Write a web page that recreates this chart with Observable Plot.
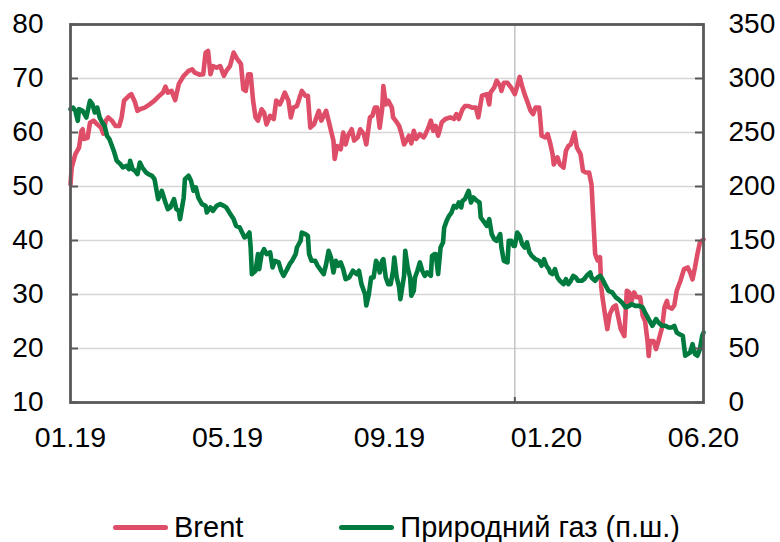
<!DOCTYPE html>
<html>
<head>
<meta charset="utf-8">
<script src="https://cdn.jsdelivr.net/npm/d3@7"></script>
<script src="https://cdn.jsdelivr.net/npm/@observablehq/plot@0.6"></script>
<style>
  html, body { margin: 0; padding: 0; background: #fff; }
  body { width: 780px; height: 542px; overflow: hidden; font-family: "Liberation Sans", Arial, sans-serif; }
  #chart svg { display: block; }
  #legend { position: relative; height: 34px; margin-top: 30px; display: flex; align-items: center; padding-left: 113px; font-size: 29px; color: #000; }
  .item { display: flex; align-items: center; }
  .swatch { display: inline-block; width: 55px; height: 5px; border-radius: 3px; margin-right: 6px; }
</style>
</head>
<body>
<div id="chart"></div>
<div id="legend"></div>
<script>
const seriesNames = ["Brent", "Природний газ (п.ш.)"];
const seriesColors = ["#DF4E68", "#007B3F"];

const leftTicks = [10, 20, 30, 40, 50, 60, 70, 80];
const rightTickLabels = ["0", "50", "100", "150", "200", "250", "300", "350"];
const xTickDates = ["2019-01-01", "2019-05-10", "2019-09-20", "2020-01-27", "2020-06-04"];
const xTickLabels = ["01.19", "05.19", "09.19", "01.20", "06.20"];
const xDomain = ["2019-01-01", "2020-06-04"];
const markerDate = "2020-01-01";

const brentDates = ["2019-01-01","2019-01-02","2019-01-05","2019-01-08","2019-01-10","2019-01-11","2019-01-12","2019-01-15","2019-01-17","2019-01-20","2019-01-23","2019-01-26","2019-01-28","2019-01-30","2019-02-01","2019-02-04","2019-02-07","2019-02-10","2019-02-12","2019-02-14","2019-02-18","2019-02-20","2019-02-23","2019-02-25","2019-02-27","2019-03-03","2019-03-07","2019-03-11","2019-03-14","2019-03-18","2019-03-20","2019-03-22","2019-03-25","2019-03-28","2019-03-31","2019-04-04","2019-04-08","2019-04-11","2019-04-13","2019-04-17","2019-04-20","2019-04-22","2019-04-24","2019-04-26","2019-04-28","2019-05-01","2019-05-04","2019-05-07","2019-05-09","2019-05-12","2019-05-15","2019-05-18","2019-05-21","2019-05-23","2019-05-25","2019-05-27","2019-05-29","2019-05-31","2019-06-02","2019-06-04","2019-06-07","2019-06-09","2019-06-11","2019-06-14","2019-06-17","2019-06-19","2019-06-22","2019-06-24","2019-06-26","2019-06-29","2019-07-01","2019-07-03","2019-07-06","2019-07-10","2019-07-13","2019-07-15","2019-07-17","2019-07-20","2019-07-24","2019-07-26","2019-07-30","2019-08-01","2019-08-04","2019-08-05","2019-08-06","2019-08-08","2019-08-11","2019-08-13","2019-08-15","2019-08-17","2019-08-20","2019-08-22","2019-08-25","2019-08-27","2019-08-30","2019-09-01","2019-09-04","2019-09-06","2019-09-08","2019-09-10","2019-09-12","2019-09-14","2019-09-15","2019-09-17","2019-09-19","2019-09-22","2019-09-23","2019-09-26","2019-09-28","2019-09-30","2019-10-02","2019-10-04","2019-10-06","2019-10-08","2019-10-10","2019-10-12","2019-10-15","2019-10-18","2019-10-19","2019-10-22","2019-10-24","2019-10-26","2019-10-28","2019-10-30","2019-11-02","2019-11-05","2019-11-09","2019-11-12","2019-11-14","2019-11-16","2019-11-19","2019-11-21","2019-11-24","2019-11-27","2019-11-30","2019-12-02","2019-12-05","2019-12-09","2019-12-11","2019-12-12","2019-12-15","2019-12-17","2019-12-20","2019-12-21","2019-12-23","2019-12-26","2019-12-29","2020-01-01","2020-01-03","2020-01-05","2020-01-07","2020-01-09","2020-01-11","2020-01-14","2020-01-16","2020-01-18","2020-01-21","2020-01-22","2020-01-23","2020-01-26","2020-01-28","2020-01-30","2020-02-01","2020-02-02","2020-02-05","2020-02-07","2020-02-10","2020-02-12","2020-02-14","2020-02-16","2020-02-19","2020-02-21","2020-02-24","2020-02-26","2020-02-28","2020-03-02","2020-03-04","2020-03-05","2020-03-07","2020-03-09","2020-03-11","2020-03-12","2020-03-13","2020-03-15","2020-03-17","2020-03-19","2020-03-22","2020-03-24","2020-03-26","2020-03-28","2020-03-31","2020-04-02","2020-04-04","2020-04-05","2020-04-08","2020-04-10","2020-04-13","2020-04-15","2020-04-17","2020-04-19","2020-04-20","2020-04-21","2020-04-24","2020-04-26","2020-04-28","2020-05-01","2020-05-03","2020-05-05","2020-05-06","2020-05-09","2020-05-11","2020-05-13","2020-05-16","2020-05-19","2020-05-22","2020-05-24","2020-05-26","2020-05-28","2020-05-30","2020-06-01","2020-06-04"];
const brentValues = [50.4,53.5,56,57.2,60.3,60.6,58.8,59,61.8,62.2,61.5,60.9,59.8,62.2,62.8,62.2,61.2,61.2,62.8,65.9,66.8,67.1,65.6,64,64.3,64.6,65.2,65.9,66.6,67.4,68.5,67.4,67.7,66,69,70.5,71.4,71.7,71.1,70.7,70.8,74.8,75.1,70.8,72.3,72,72.3,70.5,71.4,72.3,74.8,73.6,72.7,68,67.7,70.8,70.8,65.9,62.8,62.2,64.3,63.7,61.5,63.1,62.5,65.9,65.2,66.2,67.4,65.9,62.8,64.6,64.9,67.7,66.8,66.8,60.9,61.5,64,62.2,64,62.2,59.4,58.5,55.1,57.5,56.9,60,57.8,59.4,60.6,58.5,59.1,60.6,59.7,57.8,62.8,63.1,64.6,64.6,60.9,64.3,68.6,65.2,65.9,64.6,62.8,61.9,61.2,59.7,57.8,58.5,59.4,58,60.3,58.8,59.7,59.1,59.4,60.9,62.2,60.3,61.2,59.4,61.9,62.5,62.8,62.5,63.4,62.5,64.3,64.9,64.9,64.6,64.6,62.8,66.8,67.1,65.2,67.4,68.3,69.6,68.6,67.7,69.2,69.2,68.3,67.1,68.6,70.3,68.6,67.1,65.9,64,63.4,64.6,64.6,62.2,59.4,59.1,59.7,58.1,56,54.1,55.4,54.1,53.5,56.6,57.5,57.8,60,57.2,56,52.9,52.6,52.6,50.4,46.1,37.5,36.3,36.9,31.4,29.5,26.4,23.6,26.4,27.7,28,25.8,23.6,22.3,30.7,30.4,28.2,30.4,29.5,29.5,26.1,25.1,21.4,18.6,21.4,21.4,19.9,21.4,23.9,27.7,28.8,27.7,27.4,28,30.7,32.5,34.7,35,34.1,32.8,35,37.5,39.6,40.2];

const gasDates = ["2019-01-01","2019-01-03","2019-01-05","2019-01-07","2019-01-08","2019-01-11","2019-01-14","2019-01-17","2019-01-19","2019-01-21","2019-01-23","2019-01-25","2019-01-27","2019-01-29","2019-01-31","2019-02-02","2019-02-04","2019-02-06","2019-02-08","2019-02-11","2019-02-13","2019-02-16","2019-02-18","2019-02-19","2019-02-21","2019-02-23","2019-02-25","2019-02-27","2019-03-01","2019-03-04","2019-03-06","2019-03-09","2019-03-11","2019-03-14","2019-03-17","2019-03-20","2019-03-22","2019-03-24","2019-03-27","2019-03-29","2019-03-31","2019-04-01","2019-04-04","2019-04-05","2019-04-08","2019-04-10","2019-04-12","2019-04-14","2019-04-16","2019-04-19","2019-04-22","2019-04-23","2019-04-26","2019-04-28","2019-05-01","2019-05-04","2019-05-07","2019-05-09","2019-05-12","2019-05-15","2019-05-17","2019-05-20","2019-05-22","2019-05-24","2019-05-26","2019-05-28","2019-05-29","2019-05-30","2019-06-02","2019-06-04","2019-06-05","2019-06-07","2019-06-09","2019-06-11","2019-06-14","2019-06-16","2019-06-18","2019-06-21","2019-06-23","2019-06-25","2019-06-28","2019-06-30","2019-07-02","2019-07-05","2019-07-06","2019-07-09","2019-07-10","2019-07-13","2019-07-15","2019-07-16","2019-07-18","2019-07-21","2019-07-23","2019-07-25","2019-07-28","2019-07-30","2019-08-01","2019-08-03","2019-08-05","2019-08-07","2019-08-09","2019-08-11","2019-08-13","2019-08-15","2019-08-18","2019-08-21","2019-08-24","2019-08-26","2019-08-28","2019-08-31","2019-09-01","2019-09-03","2019-09-05","2019-09-07","2019-09-09","2019-09-11","2019-09-12","2019-09-14","2019-09-15","2019-09-17","2019-09-19","2019-09-21","2019-09-23","2019-09-24","2019-09-26","2019-09-28","2019-09-29","2019-10-02","2019-10-03","2019-10-05","2019-10-07","2019-10-08","2019-10-10","2019-10-11","2019-10-13","2019-10-15","2019-10-17","2019-10-19","2019-10-21","2019-10-24","2019-10-25","2019-10-27","2019-10-28","2019-10-30","2019-11-01","2019-11-03","2019-11-04","2019-11-06","2019-11-08","2019-11-10","2019-11-12","2019-11-14","2019-11-16","2019-11-18","2019-11-19","2019-11-21","2019-11-24","2019-11-26","2019-11-28","2019-12-01","2019-12-03","2019-12-04","2019-12-07","2019-12-09","2019-12-11","2019-12-13","2019-12-15","2019-12-17","2019-12-20","2019-12-21","2019-12-23","2019-12-26","2019-12-27","2019-12-29","2019-12-31","2020-01-01","2020-01-03","2020-01-05","2020-01-07","2020-01-09","2020-01-11","2020-01-13","2020-01-15","2020-01-18","2020-01-21","2020-01-23","2020-01-25","2020-01-27","2020-01-29","2020-01-30","2020-02-01","2020-02-03","2020-02-05","2020-02-07","2020-02-10","2020-02-12","2020-02-14","2020-02-16","2020-02-18","2020-02-20","2020-02-22","2020-02-25","2020-02-27","2020-02-29","2020-03-03","2020-03-04","2020-03-07","2020-03-09","2020-03-11","2020-03-13","2020-03-15","2020-03-18","2020-03-21","2020-03-24","2020-03-26","2020-03-29","2020-04-01","2020-04-04","2020-04-06","2020-04-09","2020-04-12","2020-04-15","2020-04-17","2020-04-20","2020-04-23","2020-04-26","2020-04-28","2020-05-01","2020-05-04","2020-05-06","2020-05-09","2020-05-11","2020-05-13","2020-05-15","2020-05-18","2020-05-20","2020-05-22","2020-05-24","2020-05-26","2020-05-28","2020-05-30","2020-06-01","2020-06-03","2020-06-04"];
const gasValues = [271.6,273,270,260.8,271.6,270,263.9,279.3,276.2,268.5,273,263.9,259.3,256.2,246.9,243.8,237.7,231.5,223.8,220.7,217.6,219.1,216.1,223.8,216.1,214.5,211.4,222.2,217.6,213,211.4,209.9,206.8,188.3,196,185.2,179,180.6,188.3,179,177.5,169.8,189.8,206.8,209.9,205.3,196,199.1,189.8,183.7,182.1,175.9,180.6,177.5,182.1,183.7,182.1,180.6,175,169.8,163.6,162.1,157.4,152.8,154.3,157.4,143.5,118.9,122,137.4,123.5,137.4,142,137.4,139,125,131.2,129.7,122,117.3,123.5,128.1,131.2,137.4,143.5,149.7,157.4,155.9,154.3,137.4,131.2,131.2,126.6,123.5,118.9,128.1,140.4,134.3,120.4,131.2,126.6,129.7,123.5,114.2,115.8,122,118.9,122,109.6,100.3,89.8,99.8,115.8,115.8,131.2,126.6,120.4,131.2,132.8,115.8,109.6,109.6,122,134.3,115.8,106.5,95.7,117.3,140.4,125,115.8,98.8,103.4,115.8,122,129.7,122,117.3,120.4,117.3,135.8,137.4,137.4,118.9,143.5,148.2,162.1,168.2,172.9,175.9,182.1,180.6,185.2,180.6,186.7,188.3,196,185.2,189.8,186.7,185.2,171.3,166.7,163.6,169.8,155.9,151.3,149.7,155.9,143.5,131.2,129.7,149.7,149.7,145,145,157.4,154.3,146.6,143.5,148.2,139,135.8,132.7,131.2,126.6,132.7,126.6,123.5,120.4,118.9,123.5,115.8,112.7,109.6,114.2,109.6,112.7,117.3,115.8,112.7,112.7,114.2,117.3,120.4,115.8,112.7,115.8,117.3,114.2,109.6,103.4,101.9,97.2,95.7,92.6,88,89.5,91.1,89.5,89.5,88,83.3,77.2,71,77.2,74.1,71,71,69.5,69.5,71,64.8,63.3,61.8,43.3,44.9,46.3,54,44.9,43.3,49.4,61.8,64.8];

const brent = brentDates.map((d, i) => ({date: new Date(d), value: brentValues[i]}));
const gas = gasDates.map((d, i) => ({date: new Date(d), value: gasValues[i]}));
// right axis 0..350 shares the grid with left axis 10..80
const toLeft = v => v / 5 + 10;

const axisColor = "#595959";
const font = "Liberation Sans, Arial, sans-serif";

const chart = Plot.plot({
  width: 780,
  height: 480,
  marginLeft: 70,
  marginRight: 77,
  marginTop: 24,
  marginBottom: 78,
  style: {fontFamily: font, color: "#000", background: "#fff", overflow: "visible"},
  x: {type: "utc", domain: xDomain.map(d => new Date(d)), label: null},
  y: {domain: [leftTicks[0], leftTicks[leftTicks.length - 1]], label: null},
  marks: [
    Plot.ruleY(leftTicks.slice(1, -1), {stroke: "#d6d6d6", strokeWidth: 1.5}),
    Plot.ruleX([new Date(markerDate)], {stroke: "#c4c4c4", strokeWidth: 1.5}),
    Plot.lineY(brent, {x: "date", y: "value", stroke: seriesColors[0], strokeWidth: 4.6, strokeLinejoin: "round", strokeLinecap: "round"}),
    Plot.lineY(gas, {x: "date", y: d => toLeft(d.value), stroke: seriesColors[1], strokeWidth: 4.6, strokeLinejoin: "round", strokeLinecap: "round"}),
    Plot.frame({stroke: axisColor, strokeWidth: 2.8}),
    // inward tick marks
    Plot.axisY({anchor: "left", ticks: leftTicks, tickSize: 8, dx: 8, tickFormat: () => "", stroke: axisColor, strokeWidth: 2}),
    Plot.axisY({anchor: "right", ticks: leftTicks, tickSize: 9, dx: -9, tickFormat: () => "", stroke: axisColor, strokeWidth: 2}),
    Plot.axisX({ticks: [new Date(markerDate)], tickSize: 5, dy: -5, tickFormat: () => "", stroke: axisColor, strokeWidth: 2}),
    // labels
    Plot.axisY({anchor: "left", ticks: leftTicks, tickSize: 0, tickPadding: 27, fontSize: 28, fill: "#000"}),
    Plot.axisY({anchor: "right", ticks: leftTicks, tickSize: 0, tickPadding: 25, fontSize: 28, fill: "#000",
      tickFormat: d => rightTickLabels[leftTicks.indexOf(d)]}),
    Plot.axisX({ticks: xTickDates.map(d => new Date(d)), tickSize: 0, tickPadding: 24, fontSize: 28.5, fill: "#000",
      tickFormat: d => xTickLabels[xTickDates.findIndex(t => +new Date(t) === +d)]})
  ]
});
document.getElementById("chart").appendChild(chart);

const legend = document.getElementById("legend");
seriesNames.forEach((name, i) => {
  const item = document.createElement("div");
  item.className = "item";
  if (i > 0) item.style.marginLeft = "96px";
  const sw = document.createElement("span");
  sw.className = "swatch";
  sw.style.background = seriesColors[i];
  const tx = document.createElement("span");
  tx.textContent = name;
  item.appendChild(sw);
  item.appendChild(tx);
  legend.appendChild(item);
});
</script>
</body>
</html>
